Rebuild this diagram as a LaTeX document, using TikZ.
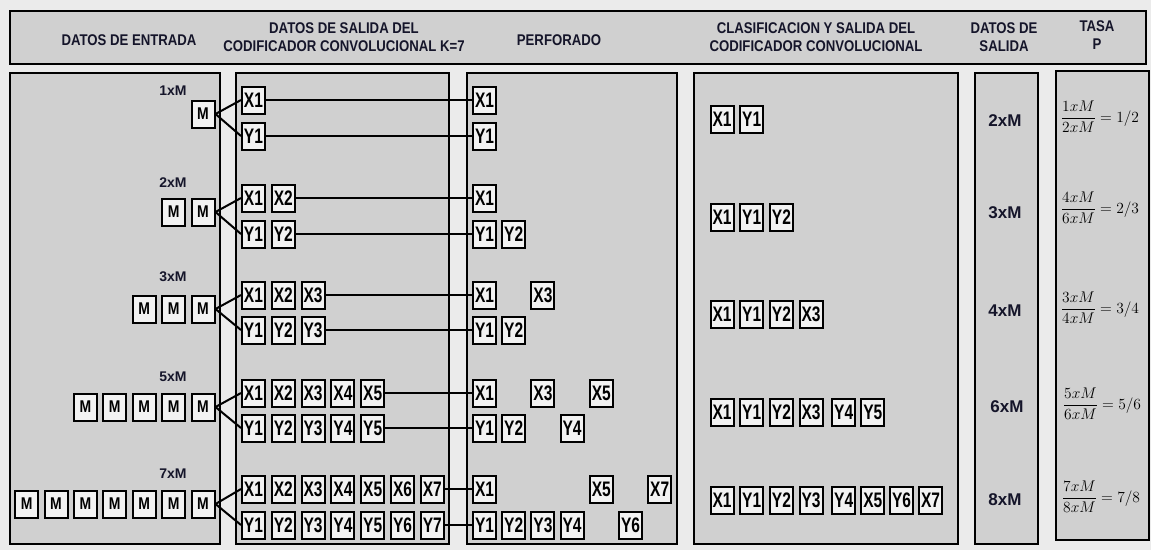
\RequirePackage{fix-cm}
\documentclass[tikz,border=0pt]{standalone}
\usepackage{amsmath}
\usepackage[no-math]{fontspec}
\setmainfont{Liberation Sans}
\newfontfamily\hdrfamily[FakeStretch=0.85]{Liberation Sans}
\newfontfamily\cellfamily[FakeStretch=0.74]{Liberation Sans}
\newfontfamily\mfamily[FakeStretch=0.82]{Liberation Sans}
\definecolor{bgcol}{HTML}{EBEBEB}
\definecolor{panelcol}{HTML}{D0D0D0}
\definecolor{cellcol}{HTML}{F2F2F2}
\definecolor{hdrcol}{HTML}{15152A}
\tikzset{
  panel/.style={draw=black, line width=2.3pt, fill=panelcol},
  cell/.style={draw=black, line width=2pt, fill=cellcol, minimum width=23pt,
    minimum height=27pt, inner sep=0pt, font=\cellfamily\bfseries\fontsize{21}{23}\selectfont},
  mcell/.style={cell, font=\mfamily\bfseries\fontsize{17}{19}\selectfont},
  wire/.style={line width=2pt},
  hdr/.style={font=\hdrfamily\bfseries\fontsize{15.5}{18}\selectfont, align=center, text=hdrcol, inner sep=0pt},
  rowlbl/.style={font=\bfseries\fontsize{14}{16}\selectfont, text=hdrcol, inner sep=0pt},
  outlbl/.style={font=\bfseries\fontsize{17}{19}\selectfont, text=hdrcol, inner sep=0pt},
  fraclbl/.style={font=\fontsize{15.5}{18}\selectfont, inner sep=0pt}
}
\begin{document}
\begin{tikzpicture}[x=1pt,y=-1pt]
\useasboundingbox (0,0) rectangle (1151,550);
\fill[bgcol] (0,0) rectangle (1151,550);
% header
\draw[panel] (10,11) rectangle (1146,64);
\node[hdr] (h1) at (129,40) {DATOS DE ENTRADA};
\node[hdr] (h2) at (344,37) {DATOS DE SALIDA DEL\\CODIFICADOR CONVOLUCIONAL K=7};
\node[hdr] (h3) at (559,40) {PERFORADO};
\node[hdr] (h4) at (816,37) {CLASIFICACION Y SALIDA DEL\\CODIFICADOR CONVOLUCIONAL};
\node[hdr] (h5) at (1004,37) {DATOS DE\\SALIDA};
\node[hdr] (h6) at (1097,35) {TASA\\P};
% panels
\draw[panel] (10,73) rectangle (220,544);
\draw[panel] (236,73) rectangle (449,544);
\draw[panel] (467,73) rectangle (677,544);
\draw[panel] (694,73) rectangle (958,544);
\draw[panel] (975,73) rectangle (1038,544);
\draw[panel] (1056,71) rectangle (1149,540);
% rows: input, encoder output
\foreach \r/\k/\yx/\yy/\ym/\yl in {1/1/100/136/114/91, 2/2/198/234/212/183, 3/3/295/330/309/277, 4/5/393/428/407/377, 5/7/489/525/504/474}{
  \node[rowlbl] (lab-\r) at (173,\yl) {\k xM};
  \foreach \i in {1,...,\k}{
    \node[mcell] (m-\r-\i) at ({203-(\i-1)*29.4},\ym) {M};
    \node[cell] (x-\r-\i) at ({253.5+(\i-1)*29.8},\yx) {X\i};
    \node[cell] (y-\r-\i) at ({253.5+(\i-1)*29.8},\yy) {Y\i};
  }
  \node[cell] (px-\r-1) at (484.5,\yx) {X1};
  \node[cell] (py-\r-1) at (484.5,\yy) {Y1};
  \draw[wire] (m-\r-1.east) -- (x-\r-1.west);
  \draw[wire] (m-\r-1.east) -- (y-\r-1.west);
  \draw[wire] (x-\r-\k.east) -- (px-\r-1.west);
  \draw[wire] (y-\r-\k.east) -- (py-\r-1.west);
}
% punctured
\foreach \j in {2}{\node[cell] (py-2-\j) at ({484.5+(\j-1)*29.2},234) {Y\j};}
\foreach \j in {3}{\node[cell] (px-3-\j) at ({484.5+(\j-1)*29.2},295) {X\j};}
\foreach \j in {2}{\node[cell] (py-3-\j) at ({484.5+(\j-1)*29.2},330) {Y\j};}
\foreach \j in {3,5}{\node[cell] (px-4-\j) at ({484.5+(\j-1)*29.2},393) {X\j};}
\foreach \j in {2,4}{\node[cell] (py-4-\j) at ({484.5+(\j-1)*29.2},428) {Y\j};}
\foreach \j in {5,7}{\node[cell] (px-5-\j) at ({484.5+(\j-1)*29.2},489) {X\j};}
\foreach \j in {2,3,4,6}{\node[cell] (py-5-\j) at ({484.5+(\j-1)*29.2},525) {Y\j};}
% classification
\foreach \i/\t in {1/X1,2/Y1}{\node[cell] (c-1-\i) at ({722+(\i-1)*29.7},119) {\t};}
\foreach \i/\t in {1/X1,2/Y1,3/Y2}{\node[cell] (c-2-\i) at ({722+(\i-1)*29.7},217) {\t};}
\foreach \i/\t in {1/X1,2/Y1,3/Y2,4/X3}{\node[cell] (c-3-\i) at ({722+(\i-1)*29.7},314) {\t};}
\foreach \i/\t in {1/X1,2/Y1,3/Y2,4/X3}{\node[cell] (c-4-\i) at ({722+(\i-1)*29.7},412) {\t};}
\foreach \i/\t/\xx in {5/Y4/843.7,6/Y5/872.8}{\node[cell] (c-4-\i) at (\xx,412) {\t};}
\foreach \i/\t in {1/X1,2/Y1,3/Y2,4/Y3}{\node[cell] (c-5-\i) at ({722+(\i-1)*29.7},500) {\t};}
\foreach \i/\t/\xx in {5/Y4/843.7,6/X5/872.8,7/Y6/901.5,8/X7/930.5}{\node[cell] (c-5-\i) at (\xx,500) {\t};}
% output data
\node[outlbl] (o-1) at (1005,121) {2xM};
\node[outlbl] (o-2) at (1005,213) {3xM};
\node[outlbl] (o-3) at (1005,311) {4xM};
\node[outlbl] (o-4) at (1007,407) {6xM};
\node[outlbl] (o-5) at (1005,500) {8xM};
% rates
\node[fraclbl] (f-1) at (1100,117) {$\dfrac{1xM}{2xM}=1/2$};
\node[fraclbl] (f-2) at (1100,208) {$\dfrac{4xM}{6xM}=2/3$};
\node[fraclbl] (f-3) at (1100,308) {$\dfrac{3xM}{4xM}=3/4$};
\node[fraclbl] (f-4) at (1102,404) {$\dfrac{5xM}{6xM}=5/6$};
\node[fraclbl] (f-5) at (1101,497) {$\dfrac{7xM}{8xM}=7/8$};
\end{tikzpicture}
\end{document}
